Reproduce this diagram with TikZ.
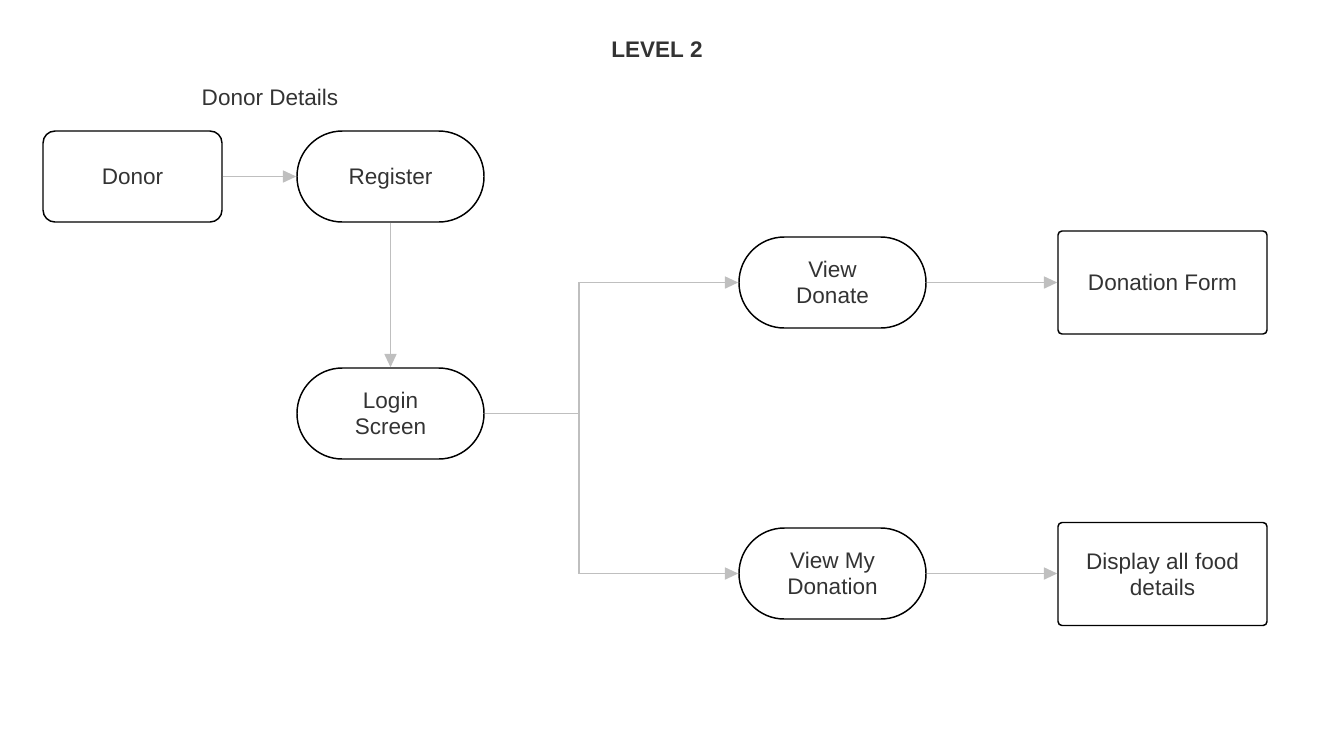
\documentclass[tikz,border=0pt]{standalone}
\usepackage{fontspec}
\setmainfont{Liberation Sans}
\usetikzlibrary{arrows.meta}
\definecolor{txt}{HTML}{333333}
\definecolor{conn}{HTML}{BFBFBF}
\tikzset{
  base/.style={draw=black, line width=1.1pt, text=txt, font=\fontsize{16.9}{19.5}\selectfont, align=center, inner sep=0pt},
  stadium/.style={base, rectangle, rounded corners=34pt, minimum width=140.25pt, minimum height=68.25pt},
  roundbox/.style={base, rectangle, rounded corners=9pt, minimum width=134.25pt, minimum height=68.25pt},
  plainbox/.style={base, rectangle, rounded corners=3pt, minimum width=156.75pt, minimum height=77.25pt},
  conn/.style={draw=conn, line width=1.3pt, -{Triangle[length=10pt,width=9pt]}},
  connline/.style={draw=conn, line width=1.3pt},
  label/.style={text=txt, font=\fontsize{16.9}{19.5}\selectfont, inner sep=0pt}
}
\begin{document}
\begin{tikzpicture}[x=0.75pt,y=-0.75pt]
\useasboundingbox (0,0) rectangle (1335,751);
\node[label, font=\fontsize{16.9}{19.5}\selectfont\bfseries] (title) at (657,50) {LEVEL 2};
\node[label] (dd) at (270,97) {Donor Details};
\node[roundbox] (donor) at (132.5,176.5) {Donor};
\node[stadium, text depth=0pt] (register) at (390.5,176.5) {Register};
\node[stadium] (login) at (390.5,413.5) {Login\\Screen};
\node[stadium] (viewdonate) at (832.5,282.5) {View\\Donate};
\node[stadium] (viewmy) at (832.5,573.5) {View My\\Donation};
\node[plainbox] (form) at (1162.5,282.5) {Donation Form};
\node[plainbox] (display) at (1162.5,574) {Display all food\\details};
\coordinate (j) at (579,413.5);
\draw[conn] (donor) -- (register);
\draw[conn] (register) -- (login);
\draw[connline] (login.east) -- (j);
\draw[conn] (j) |- (viewdonate.west);
\draw[conn] (j) |- (viewmy.west);
\draw[conn] (viewdonate) -- (form);
\draw[conn] (viewmy.east) -- (viewmy.east -| display.west);
\end{tikzpicture}
\end{document}
